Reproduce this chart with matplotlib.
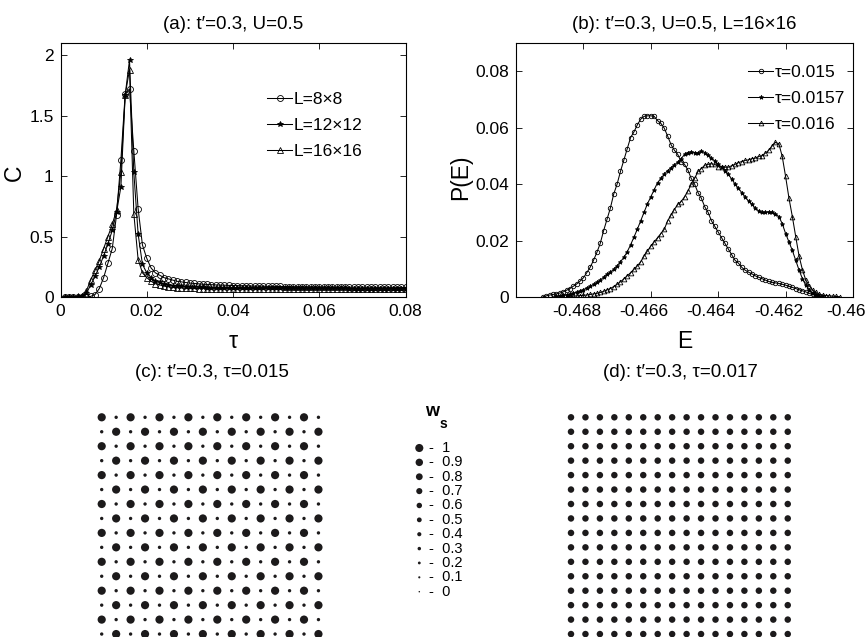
import numpy as np
import matplotlib
matplotlib.use("Agg")
import matplotlib.pyplot as plt
from matplotlib.transforms import ScaledTranslation

plt.rcParams['font.family'] = ['Liberation Sans', 'DejaVu Sans']

# ---------------- panel (a): specific heat C vs tau ----------------
tau_start, tau_step = 0.001, 0.001
C_8 = [0.00, 0.00, 0.00, 0.00, 0.00, 0.00, 0.005, 0.02, 0.07, 0.16,
       0.28, 0.40, 0.68, 1.13, 1.68, 1.72, 1.21, 0.73, 0.43, 0.32,
       0.24, 0.20, 0.18, 0.16, 0.15, 0.14, 0.13, 0.125, 0.12, 0.115,
       0.112, 0.109, 0.106, 0.104, 0.102, 0.100, 0.099, 0.098, 0.096, 0.095,
       0.094, 0.093, 0.092, 0.091, 0.090, 0.090, 0.089, 0.088, 0.088, 0.087,
       0.087, 0.086, 0.086, 0.085, 0.085, 0.085, 0.084, 0.084, 0.084, 0.083,
       0.083, 0.083, 0.082, 0.082, 0.082, 0.082, 0.081, 0.081, 0.081, 0.081,
       0.081, 0.080, 0.080, 0.080, 0.080, 0.080, 0.080, 0.079, 0.079, 0.079]
C_12 = [0.00, 0.00, 0.00, 0.00, 0.005, 0.03, 0.10, 0.17, 0.25, 0.34,
        0.44, 0.55, 0.70, 0.91, 1.67, 1.96, 1.03, 0.52, 0.27, 0.20,
        0.16, 0.13, 0.12, 0.105, 0.100, 0.095, 0.090, 0.087, 0.085, 0.083,
        0.082, 0.080, 0.079, 0.078, 0.078, 0.077, 0.077, 0.076, 0.076, 0.076,
        0.075, 0.075, 0.075, 0.074, 0.074, 0.074, 0.074, 0.073, 0.073, 0.073,
        0.073, 0.073, 0.072, 0.072, 0.072, 0.072, 0.072, 0.072, 0.071, 0.071,
        0.071, 0.071, 0.071, 0.071, 0.071, 0.071, 0.070, 0.070, 0.070, 0.070,
        0.070, 0.070, 0.070, 0.070, 0.070, 0.070, 0.070, 0.070, 0.070, 0.070]
C_16 = [0.00, 0.00, 0.00, 0.005, 0.01, 0.05, 0.14, 0.22, 0.30, 0.40,
        0.50, 0.60, 0.72, 1.03, 1.67, 1.88, 0.69, 0.31, 0.20, 0.16,
        0.13, 0.11, 0.10, 0.090, 0.085, 0.080, 0.077, 0.075, 0.073, 0.072,
        0.071, 0.070, 0.070, 0.070, 0.069, 0.069, 0.069, 0.069, 0.069, 0.069,
        0.069, 0.069, 0.069, 0.069, 0.069, 0.069, 0.069, 0.069, 0.069, 0.069,
        0.069, 0.069, 0.069, 0.069, 0.069, 0.069, 0.069, 0.069, 0.069, 0.069,
        0.069, 0.069, 0.069, 0.069, 0.069, 0.069, 0.069, 0.069, 0.069, 0.069,
        0.069, 0.069, 0.069, 0.069, 0.069, 0.069, 0.069, 0.069, 0.069, 0.069]
labels_a = ['L=8\u00d78', 'L=12\u00d712', 'L=16\u00d716']

# ---------------- panel (b): energy histograms P(E) ----------------
E_step = 0.0001
E_start_015 = -0.4692
P_015 = [0.0001, 0.0004, 0.0007, 0.0009, 0.0011, 0.0014, 0.0018, 0.0024, 0.0030, 0.0038,
         0.0046, 0.0056, 0.0068, 0.0086, 0.0105, 0.0130, 0.0158, 0.0190, 0.0235, 0.0275,
         0.0315, 0.0365, 0.0400, 0.0445, 0.0485, 0.0525, 0.0565, 0.0585, 0.0610, 0.0630,
         0.0640, 0.0642, 0.0642, 0.0640, 0.0625, 0.0615, 0.0598, 0.0570, 0.0540, 0.0520,
         0.0505, 0.0480, 0.0470, 0.0450, 0.0420, 0.0400, 0.0370, 0.0350, 0.0320, 0.0300,
         0.0270, 0.0250, 0.0230, 0.0210, 0.0190, 0.0170, 0.0150, 0.0130, 0.0120, 0.0105,
         0.0095, 0.0088, 0.0082, 0.0075, 0.0070, 0.0065, 0.0060, 0.0055, 0.0052, 0.0050,
         0.0048, 0.0045, 0.0042, 0.0038, 0.0034, 0.0030, 0.0026, 0.0022, 0.0018, 0.0013,
         0.0009, 0.0005, 0.0002, 0.0001]
E_start_0157 = -0.4688
P_0157 = [0.0002, 0.0004, 0.0006, 0.0008, 0.0010, 0.0013, 0.0017, 0.0021, 0.0026, 0.0032,
          0.0038, 0.0045, 0.0052, 0.0060, 0.0070, 0.0080, 0.0088, 0.0098, 0.0110, 0.0125,
          0.0140, 0.0160, 0.0185, 0.0212, 0.0240, 0.0270, 0.0300, 0.0330, 0.0355, 0.0380,
          0.0405, 0.0420, 0.0435, 0.0448, 0.0458, 0.0468, 0.0478, 0.0490, 0.0505, 0.0512,
          0.0515, 0.0512, 0.0510, 0.0518, 0.0512, 0.0503, 0.0492, 0.0482, 0.0470, 0.0460,
          0.0448, 0.0435, 0.0418, 0.0400, 0.0385, 0.0370, 0.0355, 0.0340, 0.0328, 0.0315,
          0.0305, 0.0300, 0.0300, 0.0302, 0.0300, 0.0295, 0.0285, 0.0260, 0.0225, 0.0195,
          0.0165, 0.0130, 0.0095, 0.0065, 0.0042, 0.0025, 0.0013, 0.0006, 0.0003, 0.0001]
E_start_016 = -0.4685
P_016 = [0.0001, 0.0002, 0.0003, 0.0004, 0.0005, 0.0006, 0.0007, 0.0009, 0.0011, 0.0013,
         0.0016, 0.0020, 0.0025, 0.0030, 0.0037, 0.0045, 0.0054, 0.0064, 0.0075, 0.0086,
         0.0098, 0.0110, 0.0125, 0.0145, 0.0163, 0.0180, 0.0195, 0.0210, 0.0225, 0.0240,
         0.0270, 0.0290, 0.0310, 0.0328, 0.0338, 0.0355, 0.0375, 0.0400, 0.0420, 0.0445,
         0.0455, 0.0467, 0.0470, 0.0472, 0.0470, 0.0462, 0.0460, 0.0460, 0.0460, 0.0465,
         0.0470, 0.0476, 0.0480, 0.0484, 0.0486, 0.0490, 0.0492, 0.0498, 0.0500, 0.0510,
         0.0520, 0.0535, 0.0548, 0.0543, 0.0498, 0.0427, 0.0350, 0.0285, 0.0214, 0.0145,
         0.0096, 0.0060, 0.0040, 0.0025, 0.0016, 0.0010, 0.0007, 0.0005, 0.0004, 0.0003,
         0.0002, 0.0001]
labels_b = ['\u03c4=0.015', '\u03c4=0.0157', '\u03c4=0.016']

# ---------------- panels (c), (d): site weights w_s on 16x16 lattice ----------------
ws_c_row_a = [1.0, 0.3, 1.0, 0.3, 1.0, 0.3, 1.0, 0.3, 1.0, 0.3, 1.0, 0.3, 1.0, 0.3, 1.0, 0.3]
ws_c_row_b = [0.3, 1.0, 0.3, 1.0, 0.3, 1.0, 0.3, 1.0, 0.3, 1.0, 0.3, 1.0, 0.3, 1.0, 0.3, 1.0]
ws_d_row = [0.75, 0.75, 0.75, 0.75, 0.75, 0.75, 0.75, 0.75, 0.75, 0.75, 0.75, 0.75, 0.75, 0.75, 0.75, 0.75]
ws_legend = [1, 0.9, 0.8, 0.7, 0.6, 0.5, 0.4, 0.3, 0.2, 0.1, 0]
ws_legend_labels = ['1', '0.9', '0.8', '0.7', '0.6', '0.5', '0.4', '0.3', '0.2', '0.1', '0']

titles = ["(a): t\u2032=0.3, U=0.5", "(b): t\u2032=0.3, U=0.5, L=16\u00d716",
          "(c): t\u2032=0.3, \u03c4=0.015", "(d): t\u2032=0.3, \u03c4=0.017"]

# ---------------- layout ----------------
W, H = 866, 637
fig = plt.figure(figsize=(W / 100, H / 100), dpi=100)


def px_axes(x0, y0, x1, y1, **kw):
    return fig.add_axes([x0 / W, 1 - y1 / H, (x1 - x0) / W, (y1 - y0) / H], **kw)


TICK_FS = 12.5
TITLE_FS = 13.5
LABEL_FS = 16.5
LEG_FS = 12.5


def style_axes(ax):
    ax.tick_params(direction='in', top=True, right=True, length=4, width=0.6,
                   labelsize=TICK_FS, pad=5)
    for s in ax.spines.values():
        s.set_linewidth(0.8)


line_kw = dict(color='black', lw=0.75, mec='black', mew=0.6)
leg_kw = dict(loc='upper left', bbox_transform=fig.transFigure, frameon=False, fontsize=LEG_FS,
              handlelength=1.45, handletextpad=0.1, labelspacing=0.62, borderpad=0, borderaxespad=0)

# (a)
axa = px_axes(60.5, 43, 405.5, 297)
tau_a = np.round(tau_start + tau_step * np.arange(len(C_8)), 4)
axa.plot(tau_a, C_8, marker='o', ms=4.3, mfc='none', label=labels_a[0], **line_kw)
axa.plot(tau_a, C_12, marker='*', ms=4.0, mfc='black', label=labels_a[1], **line_kw)
axa.plot(tau_a, C_16, marker='^', ms=4.0, mfc='none', label=labels_a[2], **line_kw)
axa.set_xlim(0, 0.08)
axa.set_ylim(0, 2.1)
axa.set_xticks([0, 0.02, 0.04, 0.06, 0.08], ['0', '0.02', '0.04', '0.06', '0.08'])
axa.set_yticks([0, 0.5, 1, 1.5, 2], ['0', '0.5', '1', '1.5', '2'])
style_axes(axa)
axa.set_title(titles[0], fontsize=TITLE_FS, pad=10)
axa.set_xlabel('\u03c4', fontsize=LABEL_FS)
axa.set_ylabel('C', fontsize=LABEL_FS)
axa.xaxis.set_label_coords(0.5, -0.13)
axa.yaxis.set_label_coords(-0.10, 0.49)
axa.legend(bbox_to_anchor=(267 / W, 1 - 92 / H), **leg_kw)

# (b)
axb = px_axes(516, 43, 853, 297)
for E0, P, mk, ms, fc, lab in [(E_start_015, P_015, 'o', 3.2, 'none', labels_b[0]),
                               (E_start_0157, P_0157, '*', 3.2, 'black', labels_b[1]),
                               (E_start_016, P_016, '^', 3.4, 'none', labels_b[2])]:
    E = np.round(E0 + E_step * np.arange(len(P)), 5)
    axb.plot(E, P, marker=mk, ms=ms, mfc=fc, label=lab, **line_kw)
axb.set_xlim(-0.470, -0.460)
axb.set_ylim(0, 0.09)
axb.set_xticks([-0.468, -0.466, -0.464, -0.462, -0.46], ['-0.468', '-0.466', '-0.464', '-0.462', '-0.46'])
axb.set_yticks([0, 0.02, 0.04, 0.06, 0.08], ['0', '0.02', '0.04', '0.06', '0.08'])
style_axes(axb)
shift = ScaledTranslation(-0.07, 0, fig.dpi_scale_trans)
for lbl in axb.get_xticklabels():
    lbl.set_transform(lbl.get_transform() + shift)
axb.set_title(titles[1], fontsize=TITLE_FS, pad=10)
axb.set_xlabel('E', fontsize=LABEL_FS)
axb.set_ylabel('P(E)', fontsize=LABEL_FS)
axb.xaxis.set_label_coords(0.5, -0.13)
axb.yaxis.set_label_coords(-0.13, 0.47)
axb.legend(bbox_to_anchor=(748 / W, 1 - 65 / H), **leg_kw)


# (c), (d) lattices
def diam_to_s(d_px):
    return (np.asarray(d_px) * 0.72) ** 2


def lattice(ax, grid):
    grid = np.asarray(grid)
    n = grid.shape[0]
    jj, ii = np.meshgrid(np.arange(n), np.arange(n))
    d = 1.3 + 6.9 * grid
    ax.scatter(jj.ravel(), ii.ravel(), s=diam_to_s(d.ravel()), c='#1c1a1b', linewidths=0)
    ax.set_xlim(-0.5, n - 0.5)
    ax.set_ylim(n - 0.5, -0.5)
    ax.axis('off')


sp = 14.45
axc = px_axes(101.7 - sp / 2, 417.3 - sp / 2, 101.7 + 15.5 * sp, 417.3 + 15.5 * sp)
lattice(axc, [ws_c_row_a, ws_c_row_b] * 8)
axd = px_axes(571 - sp / 2, 417.3 - sp / 2, 571 + 15.5 * sp, 417.3 + 15.5 * sp)
lattice(axd, [ws_d_row] * 16)
fig.text(212 / W, 1 - 373 / H, titles[2], ha='center', va='center', fontsize=TITLE_FS)
fig.text(680 / W, 1 - 373 / H, titles[3], ha='center', va='center', fontsize=TITLE_FS)

# w_s size legend: y data = weight value
step = (591.7 - 448) / 10
axl = px_axes(410, 448 - 0.5 * step, 480, 591.7 + 0.5 * step)
axl.set_xlim(410, 480)
axl.set_ylim(-0.05, 1.05)
axl.axis('off')
axl.scatter([419.3] * len(ws_legend), ws_legend,
            s=diam_to_s(1.5 + 6.6 * np.asarray(ws_legend)), c='#1c1a1b', linewidths=0)
for w, lab in zip(ws_legend, ws_legend_labels):
    axl.text(429.5, w, '-  ' + lab, ha='left', va='center', fontsize=10.5)
fig.text(431.7 / W, 1 - 411.5 / H, 'w', ha='center', va='center', fontsize=13, fontweight='bold')
fig.text(443.3 / W, 1 - 423.5 / H, 's', ha='center', va='center', fontsize=10, fontweight='bold')

fig.savefig('out.png', dpi=100)
